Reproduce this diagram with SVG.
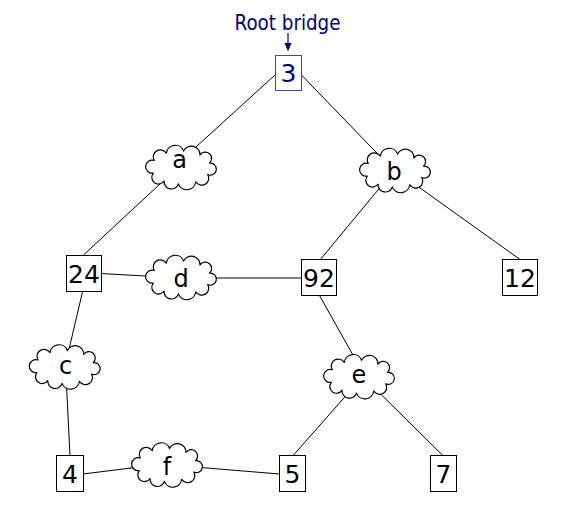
<svg xmlns="http://www.w3.org/2000/svg" xmlns:xlink="http://www.w3.org/1999/xlink" width="588" height="529" viewBox="0 0 588 529">
<style>
.box{fill:#fff;stroke:#000;stroke-width:1}
.root{fill:#fff;stroke:#4646a0;stroke-width:1}
.cloud{fill:#fff;stroke:#000;stroke-width:1.2;stroke-linejoin:round}
.num{font-family:"DejaVu Sans","Noto Sans",sans-serif;font-size:25px;text-anchor:middle;fill:#000}
.let{font-family:"DejaVu Sans","Noto Sans",sans-serif;font-size:24px;text-anchor:middle;fill:#000}
.conn line{stroke:#000;stroke-width:1;fill:none}
</style>
<defs>
<path id="cloudShape" d="M-27.7,5.6 A6.54,6.54 0 1 1 -26.7,-7 A7,7 0 1 1 -14.75,-14.3 A9,9 0 0 1 2.6,-16.4 A8.6,8.6 0 0 1 19,-12.6 A6.35,6.35 0 1 1 28.5,-4.3 A6,6 0 1 1 26.7,7 A7,7 0 1 1 14.75,14.3 A9,9 0 0 1 -2.6,16.4 A7.34,7.34 0 0 1 -16.9,13.5 A6.7,6.7 0 1 1 -27.7,5.6 Z"/>
</defs>
<rect width="588" height="529" fill="#fff"/>
<g id="connectors" class="conn">
<line x1="275" y1="75" x2="185" y2="157"/>
<line x1="175" y1="170" x2="83.5" y2="255"/>
<line x1="301" y1="74.5" x2="385" y2="161.5"/>
<line x1="385" y1="181.5" x2="320" y2="260"/>
<line x1="405" y1="177.2" x2="520" y2="259.5"/>
<line x1="101" y1="273.5" x2="170" y2="277.4"/>
<line x1="190" y1="278" x2="301" y2="278"/>
<line x1="82.7" y1="291" x2="66.5" y2="360"/>
<line x1="66" y1="375" x2="70" y2="456"/>
<line x1="83" y1="474" x2="160" y2="464.4"/>
<line x1="175" y1="465.4" x2="279.5" y2="474"/>
<line x1="319.5" y1="295.5" x2="358" y2="364"/>
<line x1="352" y1="388.8" x2="292.7" y2="456"/>
<line x1="372" y1="385.4" x2="443.3" y2="456"/>
</g>
<g id="rootLabel">
<text x="287.5" y="30" font-family="DejaVu Sans, Noto Sans, sans-serif" font-size="22" fill="#000080" text-anchor="middle" textLength="106" lengthAdjust="spacingAndGlyphs">Root bridge</text>
<line x1="288" y1="33" x2="288" y2="44" stroke="#000080" stroke-width="1.2"/>
<polygon points="284.5,43 291.5,43 288,51.5" fill="#000080"/>
</g>
<g id="node-3">
<rect class="root" x="275.5" y="55.5" width="26" height="35"/>
<text class="num" x="288.5" y="81.7" style="fill:#000080">3</text>
</g>
<g id="node-24">
<rect class="box" x="66.5" y="255.5" width="35" height="36"/>
<text class="num" x="84" y="282.7">24</text>
</g>
<g id="node-92">
<rect class="box" x="301.5" y="259.5" width="35" height="36"/>
<text class="num" x="319" y="286.5">92</text>
</g>
<g id="node-12">
<rect class="box" x="502.5" y="259.5" width="35" height="36"/>
<text class="num" x="520" y="287">12</text>
</g>
<g id="node-4">
<rect class="box" x="56.5" y="455.5" width="27" height="36"/>
<text class="num" x="70" y="483.3">4</text>
</g>
<g id="node-5">
<rect class="box" x="279.5" y="455.5" width="26" height="36"/>
<text class="num" x="292.5" y="483.3">5</text>
</g>
<g id="node-7">
<rect class="box" x="430.5" y="455.5" width="26" height="36"/>
<text class="num" x="443.5" y="483.3">7</text>
</g>
<g id="cloud-a">
<use xlink:href="#cloudShape" href="#cloudShape" class="cloud" transform="translate(181,167.5)"/>
<text class="let" x="179.5" y="168.3">a</text>
</g>
<g id="cloud-b">
<use xlink:href="#cloudShape" href="#cloudShape" class="cloud" transform="translate(395,170.5)"/>
<text class="let" x="394" y="180">b</text>
</g>
<g id="cloud-d">
<use xlink:href="#cloudShape" href="#cloudShape" class="cloud" transform="translate(181,277.5)"/>
<text class="let" x="181" y="286.7">d</text>
</g>
<g id="cloud-c">
<use xlink:href="#cloudShape" href="#cloudShape" class="cloud" transform="translate(64.7,367)"/>
<text class="let" x="65.5" y="374">c</text>
</g>
<g id="cloud-e">
<use xlink:href="#cloudShape" href="#cloudShape" class="cloud" transform="translate(359,376.7)"/>
<text class="let" x="359" y="383">e</text>
</g>
<g id="cloud-f">
<use xlink:href="#cloudShape" href="#cloudShape" class="cloud" transform="translate(167,465)"/>
<text class="let" x="167" y="475">f</text>
</g>
</svg>
